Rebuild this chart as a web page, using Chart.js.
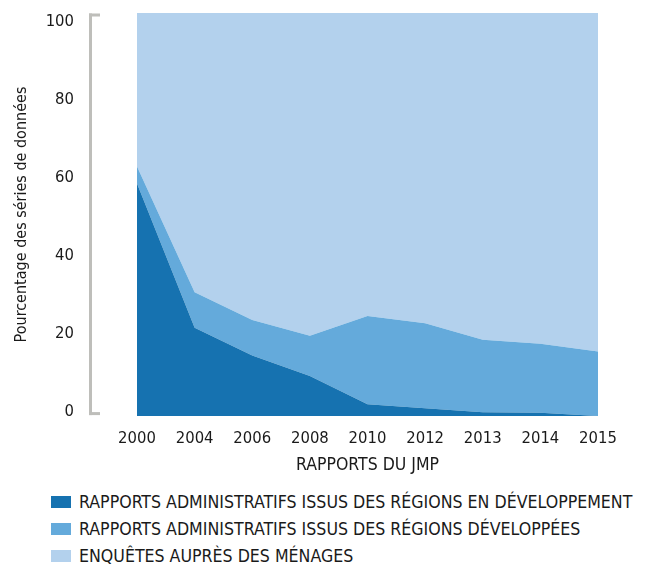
<!DOCTYPE html>
<html>
<head>
<meta charset="utf-8">
<script src="https://cdn.jsdelivr.net/npm/chart.js@4/dist/chart.umd.min.js"></script>
<style>
  html, body { margin: 0; padding: 0; background: #ffffff; }
  #wrap { position: relative; width: 648px; height: 564px; overflow: hidden; }
  #box { position: absolute; left: 0; top: 0; width: 648px; height: 480px; }
  #legend { position: absolute; left: 51px; top: 488px; font-family: "Liberation Sans Narrow", "DejaVu Sans Condensed", "Arial Narrow", sans-serif; font-size: 17.6px; color: #1a1a1a; }
  .item { display: flex; align-items: center; height: 27px; white-space: nowrap; }
  .sw { width: 20px; height: 12px; margin-right: 8px; flex: none; }
</style>
</head>
<body>
<div id="wrap">
  <div id="box"><canvas id="c"></canvas></div>
  <div id="legend"></div>
</div>
<script>
// ---- data ----
const categories = ["2000", "2004", "2006", "2008", "2010", "2012", "2013", "2014", "2015"];
const seriesNames = [
  "RAPPORTS ADMINISTRATIFS ISSUS DES RÉGIONS EN DÉVELOPPEMENT",
  "RAPPORTS ADMINISTRATIFS ISSUS DES RÉGIONS DÉVELOPPÉES",
  "ENQUÊTES AUPRÈS DES MÉNAGES"
];
const adminDeveloping = [57.7, 21.9, 15.0, 9.9, 2.9, 1.9, 0.9, 0.8, 0.0];
const adminDeveloped  = [4.2, 8.8, 8.8, 10.0, 21.9, 21.1, 18.0, 17.1, 16.0];
const householdSurveys = [38.1, 69.3, 76.2, 80.1, 75.2, 77.0, 81.1, 82.1, 84.0];
const yTickValues = [0, 20, 40, 60, 80, 100];
const yAxisTitle = "Pourcentage des séries de données";
const xAxisTitle = "RAPPORTS DU JMP";

const colors = ["#1672b0", "#64aadb", "#b3d1ed"];
const FONT = "'Liberation Sans Narrow', 'DejaVu Sans Condensed', 'Arial Narrow', sans-serif";
const TXT = "#1a1a1a";

const bracketPlugin = {
  id: "bracket",
  afterDraw(chart) {
    const ctx = chart.ctx;
    const ca = chart.chartArea;
    const s = chart.scales.y2;
    const x0 = ca.left - 48;
    const top = ca.top + 0.5;
    const bot = s.getPixelForValue(0) + 3;
    ctx.save();
    ctx.fillStyle = "#bebeba";
    ctx.fillRect(x0, top, 3, bot - top);
    ctx.fillRect(x0, top, 11, 3);
    ctx.fillRect(x0, bot - 3, 11, 3);
    ctx.restore();
  }
};

const datasets = [adminDeveloping, adminDeveloped, householdSurveys].map((vals, i) => ({
  label: seriesNames[i],
  data: vals,
  backgroundColor: colors[i],
  borderColor: colors[i],
  borderWidth: 0,
  pointRadius: 0,
  tension: 0,
  fill: i === 0 ? "start" : "-1",
  yAxisID: "y"
}));

const chart = new Chart(document.getElementById("c"), {
  type: "line",
  data: { labels: categories, datasets },
  plugins: [bracketPlugin],
  options: {
    responsive: true,
    maintainAspectRatio: false,
    animation: false,
    layout: { padding: { left: 0, right: 50, top: 13, bottom: 0 } },
    plugins: { legend: { display: false }, tooltip: { enabled: false }, filler: { propagate: false } },
    scales: {
      x: {
        type: "category",
        offset: false,
        grid: { display: false, drawTicks: false },
        border: { display: false },
        ticks: { autoSkip: false, maxRotation: 0, padding: 13, color: TXT, font: { family: FONT, size: 16.5 } },
        title: { display: true, text: xAxisTitle, color: TXT, font: { family: FONT, size: 17.5 }, padding: { top: 0, bottom: 4 } },
        afterFit(scale) { scale.height = 64; scale.paddingLeft = 0; scale.paddingRight = 0; }
      },
      y: {
        display: false,
        stacked: true,
        min: 0,
        max: 100
      },
      y2: {
        position: "left",
        min: -1.0,
        max: 102.2,
        grid: { display: false, drawTicks: false },
        border: { display: false },
        afterBuildTicks(scale) { scale.ticks = yTickValues.map(v => ({ value: v })); },
        ticks: { padding: 63, color: TXT, font: { family: FONT, size: 16.5 } },
        title: { display: true, text: yAxisTitle, color: TXT, font: { family: FONT, size: 16 }, padding: { top: 12, bottom: 0 } },
        afterFit(scale) { scale.width = 137; scale.paddingTop = 0; scale.paddingBottom = 0; }
      }
    }
  }
});

// HTML legend built from the chart datasets
const leg = document.getElementById("legend");
chart.data.datasets.forEach(ds => {
  const row = document.createElement("div");
  row.className = "item";
  const sw = document.createElement("span");
  sw.className = "sw";
  sw.style.background = ds.backgroundColor;
  const t = document.createElement("span");
  t.textContent = ds.label;
  row.appendChild(sw);
  row.appendChild(t);
  leg.appendChild(row);
});
</script>
</body>
</html>
